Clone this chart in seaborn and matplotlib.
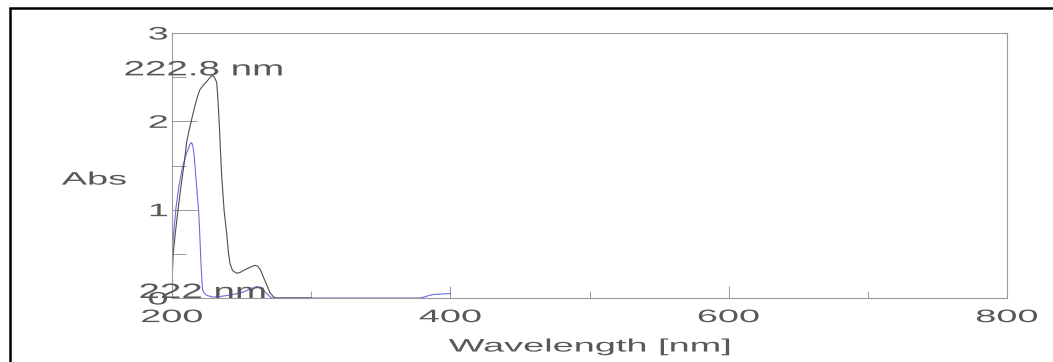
import matplotlib
matplotlib.use("Agg")
import matplotlib.pyplot as plt
import pandas as pd
import seaborn as sns
from matplotlib import patheffects
from matplotlib.patches import Rectangle
from matplotlib.ticker import FixedLocator, MultipleLocator
from matplotlib.transforms import Affine2D

# Absorbance spectra (wavelength in nm, absorbance)
wl_black = [200.0, 200.9, 202.5, 204.1, 206.5, 208.8, 210.5, 212.3, 214.1, 216.5,
            218.5, 220.1, 222.5, 224.9, 227.0, 229.0, 230.5, 232.1, 233.0, 234.0,
            235.7, 237.5, 239.3, 240.5, 241.7, 243.5, 246.5, 249.0, 251.2, 255.0,
            258.0, 259.6, 261.5, 263.5, 265.6, 268.0, 270.4, 272.5, 274.0, 300.0]
abs_black = [0.20, 0.51, 0.75, 0.97, 1.27, 1.53, 1.76, 1.90, 2.02, 2.18,
             2.29, 2.36, 2.41, 2.45, 2.49, 2.52, 2.50, 2.44, 2.25, 1.95,
             1.38, 0.98, 0.73, 0.52, 0.39, 0.31, 0.28, 0.29, 0.31, 0.34,
             0.36, 0.37, 0.36, 0.32, 0.24, 0.15, 0.06, 0.02, 0.00, 0.00]

wl_blue = [200.0, 201.0, 202.9, 205.0, 207.7, 210.5, 212.9, 214.1, 215.0, 216.0,
           217.5, 219.2, 220.0, 220.8, 221.5, 222.0, 223.5, 224.9, 229.5, 236.0,
           243.8, 250.0, 256.0, 260.8, 263.5, 265.6, 268.0, 270.0, 271.6, 330.0,
           378.0, 381.0, 385.0, 388.0, 394.0, 400.0]
abs_blue = [0.47, 0.70, 1.03, 1.27, 1.49, 1.64, 1.74, 1.76, 1.72, 1.60,
            1.30, 0.97, 0.70, 0.40, 0.20, 0.09, 0.05, 0.03, 0.01, 0.02,
            0.04, 0.06, 0.10, 0.13, 0.12, 0.09, 0.05, 0.02, 0.00, 0.00,
            0.00, 0.01, 0.03, 0.04, 0.045, 0.05]

peak_labels = ["222.8 nm", "222 nm"]
peak_wl = [222.8, 222.0]
x_ticks = [200, 400, 600, 800]
y_ticks = [0, 1, 2, 3]


class WideText(patheffects.AbstractPathEffect):
    """Draw a text path stretched horizontally about its left, centre or right edge."""

    def __init__(self, sx=2.0, anchor="center"):
        super().__init__()
        self.sx = sx
        self.anchor = anchor

    def draw_path(self, renderer, gc, tpath, affine, rgbFace=None):
        ext = tpath.get_extents(affine)
        if self.anchor == "left":
            px = ext.x0
        elif self.anchor == "right":
            px = ext.x1
        else:
            px = 0.5 * (ext.x0 + ext.x1)
        stretch = Affine2D().translate(-px, 0).scale(self.sx, 1).translate(px, 0)
        renderer.draw_path(gc, tpath, affine + stretch, rgbFace)


sns.set_theme(style="white")
plt.rcParams["font.family"] = ["Liberation Sans", "DejaVu Sans"]

TEXT = "#585858"
SPINE = "#9a9a9a"

fig = plt.figure(figsize=(10.53, 3.62), dpi=100)
ax = fig.add_axes([172 / 1053, 1 - 298 / 362, 835 / 1053, 265 / 362])

df_black = pd.DataFrame({"wl": wl_black, "abs": abs_black})
df_blue = pd.DataFrame({"wl": wl_blue, "abs": abs_blue})
sns.lineplot(data=df_blue, x="wl", y="abs", ax=ax, color="#6c6cdc", lw=0.8,
             sort=False, estimator=None)
sns.lineplot(data=df_black, x="wl", y="abs", ax=ax, color="#4e4e4e", lw=0.8,
             sort=False, estimator=None)

ax.set_xlim(200, 800)
ax.set_ylim(0, 3)
ax.xaxis.set_major_locator(FixedLocator(x_ticks))
ax.xaxis.set_minor_locator(MultipleLocator(100))
ax.yaxis.set_major_locator(FixedLocator(y_ticks))
ax.yaxis.set_minor_locator(MultipleLocator(0.5))
ax.set_xticklabels([str(t) for t in x_ticks])
ax.set_yticklabels([str(t) for t in y_ticks])

ax.tick_params(axis="x", which="major", direction="in", length=8.6, width=0.7,
               color=SPINE, pad=8, labelsize=13, labelcolor=TEXT)
ax.tick_params(axis="x", which="minor", direction="in", length=5, width=0.7,
               color=SPINE)
ax.tick_params(axis="y", which="major", direction="in", length=18, width=0.7,
               color=SPINE, pad=3, labelsize=13, labelcolor=TEXT)
ax.tick_params(axis="y", which="minor", direction="in", length=10, width=0.7,
               color=SPINE)
ax.tick_params(bottom=True, left=True, which="both")

for side in ax.spines.values():
    side.set_color(SPINE)
    side.set_linewidth(0.8)

for lab in ax.get_xticklabels():
    lab.set_path_effects([WideText(2.1, "center")])
for lab in ax.get_yticklabels():
    lab.set_path_effects([WideText(2.1, "right")])

ax.set_xlabel("Wavelength [nm]", fontsize=13, color=TEXT, va="center",
              path_effects=[WideText(2.1, "center")])
ax.xaxis.set_label_coords(0.5, -0.185)
ax.set_ylabel("Abs", fontsize=13, color=TEXT, rotation=0, ha="center", va="center",
              path_effects=[WideText(2.1, "center")])
ax.yaxis.set_label_coords(-0.0934, 0.445)

# Peak annotations
label_y = [max(abs_black), 0.0]
for text, wl, yv in zip(peak_labels, peak_wl, label_y):
    ax.text(wl, yv, text, ha="center", va="baseline", fontsize=15, color=TEXT,
            path_effects=[WideText(1.85, "center")])

# Frame around the figure
fig.add_artist(Rectangle((10 / 1053, -0.5), 2.0, 1 - 8 / 362 + 0.5,
                         transform=fig.transFigure, fill=False,
                         ec="black", lw=1.8))

fig.savefig("out.png", dpi=100)
